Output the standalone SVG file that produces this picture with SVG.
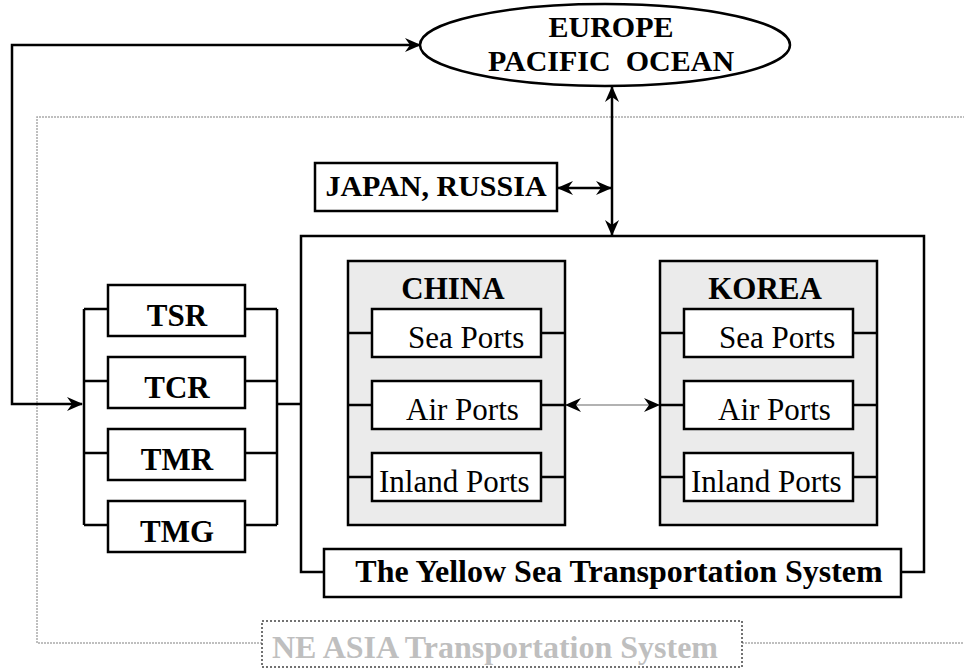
<svg xmlns="http://www.w3.org/2000/svg" width="964" height="670" viewBox="0 0 964 670">
<style>
.box{fill:#fff;stroke:#000;stroke-width:2.5}
.grp{fill:#ebebeb;stroke:#000;stroke-width:2.5}
.ln{fill:none;stroke:#000;stroke-width:2.5}
.b{font-family:"Liberation Serif","Times New Roman",serif;font-weight:bold;font-size:31px;fill:#000}
.r{font-family:"Liberation Serif","Times New Roman",serif;font-size:31px;fill:#000}
.mid{text-anchor:middle}
</style>
<defs>
<marker id="ah" viewBox="0 0 16 14" refX="15" refY="7" markerWidth="16" markerHeight="14" markerUnits="userSpaceOnUse" orient="auto-start-reverse">
<path d="M0,0 L16,7 L0,14 L5,7 z" fill="#000"/>
</marker>
</defs>
<g id="ne-asia-frame">
<path d="M262,643 L37,643 L37,117 L964,117 M742,643 L964,643" fill="none" stroke="#aaa" stroke-width="1.5" stroke-dasharray="2,1"/>
<rect x="262" y="621" width="480" height="46" fill="#fff" stroke="#444" stroke-width="1.5" stroke-dasharray="2,2"/>
<text x="272" y="658" class="b" style="fill:#bfbfbf;font-size:32px">NE ASIA Transportation System</text>
</g>
<g id="connectors">
<path class="ln" d="M420,45 L12,45 L12,404 L82,404" marker-start="url(#ah)" marker-end="url(#ah)"/>
<path class="ln" d="M612,87 L612,235" marker-start="url(#ah)" marker-end="url(#ah)"/>
<path class="ln" d="M558,188 L611,188" marker-start="url(#ah)" marker-end="url(#ah)"/>
<path class="ln" d="M84,309 L84,525 M84,309 L108,309 M84,381 L108,381 M84,453 L108,453 M84,525 L108,525"/>
<path class="ln" d="M277,309 L277,525 M245,309 L277,309 M245,381 L277,381 M245,453 L277,453 M245,525 L277,525 M277,404 L301,404"/>
<path d="M566,405 L659,405" fill="none" stroke="#999" stroke-width="1.5" marker-start="url(#ah)" marker-end="url(#ah)"/>
</g>
<g id="europe">
<ellipse cx="605" cy="45" rx="185" ry="41" fill="#fff" stroke="#000" stroke-width="2.5"/>
<text x="611" y="37" class="b mid" style="font-size:30px">EUROPE</text>
<text x="611" y="71" class="b mid" style="font-size:30px" xml:space="preserve">PACIFIC  OCEAN</text>
</g>
<g id="japan-russia">
<rect x="315" y="163" width="242" height="48" class="box"/>
<text x="436" y="196" class="b mid" style="font-size:30px">JAPAN, RUSSIA</text>
</g>
<g id="tsr"><rect x="108" y="285" width="137" height="51" class="box"/><text x="177" y="326" class="b mid">TSR</text></g>
<g id="tcr"><rect x="108" y="357" width="137" height="51" class="box"/><text x="177" y="398" class="b mid">TCR</text></g>
<g id="tmr"><rect x="108" y="429" width="137" height="51" class="box"/><text x="177" y="470" class="b mid">TMR</text></g>
<g id="tmg"><rect x="108" y="501" width="137" height="51" class="box"/><text x="177" y="542" class="b mid">TMG</text></g>
<g id="yellow-sea">
<path class="ln" d="M324,572 L301,572 L301,236 L924,236 L924,572 L901,572"/>
<rect x="324" y="549" width="577" height="48" class="box"/>
<text x="619" y="582" class="b mid" style="font-size:32px">The Yellow Sea Transportation System</text>
</g>
<g id="china">
<rect x="348" y="261" width="217" height="264" class="grp"/>
<text x="453" y="299" class="b mid">CHINA</text>
<path class="ln" d="M348,333 L372,333 M541,333 L565,333 M348,405 L372,405 M541,405 L565,405 M348,477 L372,477 M541,477 L565,477"/>
<rect x="372" y="309" width="169" height="48" class="box"/>
<text x="408" y="348" class="r">Sea Ports</text>
<rect x="372" y="381" width="169" height="48" class="box"/>
<text x="406" y="420" class="r">Air Ports</text>
<rect x="372" y="453" width="169" height="48" class="box"/>
<text x="379" y="492" class="r">Inland Ports</text>
</g>
<g id="korea">
<rect x="660" y="261" width="217" height="264" class="grp"/>
<text x="765" y="299" class="b mid">KOREA</text>
<path class="ln" d="M660,333 L684,333 M853,333 L877,333 M660,405 L684,405 M853,405 L877,405 M660,477 L684,477 M853,477 L877,477"/>
<rect x="684" y="309" width="169" height="48" class="box"/>
<text x="719" y="348" class="r">Sea Ports</text>
<rect x="684" y="381" width="169" height="48" class="box"/>
<text x="718" y="420" class="r">Air Ports</text>
<rect x="684" y="453" width="169" height="48" class="box"/>
<text x="691" y="492" class="r">Inland Ports</text>
</g>
</svg>
